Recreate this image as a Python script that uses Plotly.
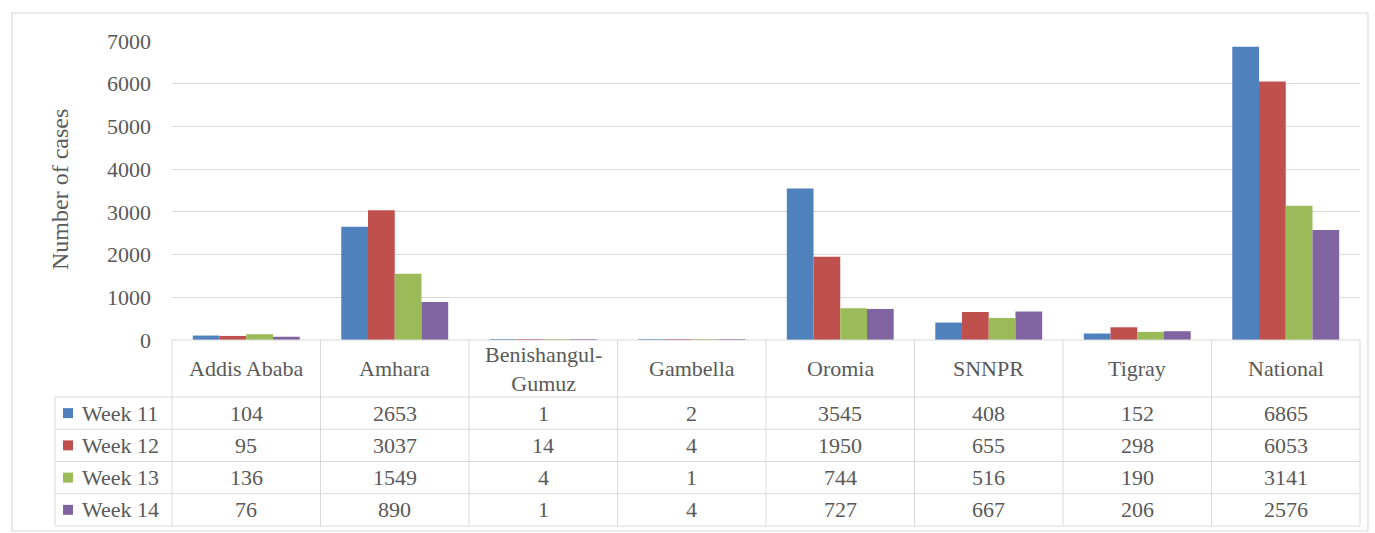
import plotly.graph_objects as go

# Weekly case counts by region
regions = ["Addis Ababa", "Amhara", "Benishangul-Gumuz", "Gambella",
           "Oromia", "SNNPR", "Tigray", "National"]
region_labels = ["Addis Ababa", "Amhara", "Benishangul-<br>Gumuz", "Gambella",
                 "Oromia", "SNNPR", "Tigray", "National"]
series_names = ["Week 11", "Week 12", "Week 13", "Week 14"]
week11 = [104, 2653, 1, 2, 3545, 408, 152, 6865]
week12 = [95, 3037, 14, 4, 1950, 655, 298, 6053]
week13 = [136, 1549, 4, 1, 744, 516, 190, 3141]
week14 = [76, 890, 1, 4, 727, 667, 206, 2576]
y_ticks = [0, 1000, 2000, 3000, 4000, 5000, 6000, 7000]

series_values = [week11, week12, week13, week14]
colors = ["#4F81BD", "#C0504D", "#9BBB59", "#8064A2"]

W, H = 1375, 533
FONT = "Liberation Serif, Times New Roman, serif"
TEXT = "#595959"
LINE = "#D9D9D9"
FS = 22


def px(x):
    return x / W


def py(y):
    return 1 - y / H


# plot area and data-table geometry (pixels)
PLOT_L, PLOT_R, PLOT_T, PLOT_B = 172, 1360, 41, 340
KEY_L = 55
HEAD_B = 397
TABLE_B = 526
n_cols = len(regions)
col_w = (PLOT_R - PLOT_L) / n_cols
row_h = (TABLE_B - HEAD_B) / len(series_names)

fig = go.Figure()
for name, vals, c in zip(series_names, series_values, colors):
    fig.add_trace(go.Bar(x=regions, y=vals, name=name, marker_color=c,
                         marker_line_width=0))

shapes = []
annotations = []

# outer chart border
shapes.append(dict(type="rect", xref="paper", yref="paper",
                   x0=px(12), x1=px(1368), y0=py(531), y1=py(13),
                   line=dict(color=LINE, width=1.2), layer="below"))

# table horizontal lines
shapes.append(dict(type="line", xref="paper", yref="paper",
                   x0=px(PLOT_L), x1=px(PLOT_R), y0=py(PLOT_B), y1=py(PLOT_B),
                   line=dict(color=LINE, width=1)))
for i in range(len(series_names) + 1):
    yy = HEAD_B + i * row_h
    shapes.append(dict(type="line", xref="paper", yref="paper",
                       x0=px(KEY_L), x1=px(PLOT_R), y0=py(yy), y1=py(yy),
                       line=dict(color=LINE, width=1)))
# table vertical lines
shapes.append(dict(type="line", xref="paper", yref="paper",
                   x0=px(KEY_L), x1=px(KEY_L), y0=py(HEAD_B), y1=py(TABLE_B),
                   line=dict(color=LINE, width=1)))
for j in range(n_cols + 1):
    xx = PLOT_L + j * col_w
    shapes.append(dict(type="line", xref="paper", yref="paper",
                       x0=px(xx), x1=px(xx), y0=py(PLOT_B), y1=py(TABLE_B),
                       line=dict(color=LINE, width=1)))

# category header row
for j, lab in enumerate(region_labels):
    annotations.append(dict(xref="paper", yref="paper",
                            x=px(PLOT_L + (j + 0.5) * col_w),
                            y=py((PLOT_B + HEAD_B) / 2),
                            text=lab, showarrow=False,
                            xanchor="center", yanchor="middle",
                            font=dict(family=FONT, size=FS, color=TEXT)))

# series rows: legend key, name, values
for i, (name, vals, c) in enumerate(zip(series_names, series_values, colors)):
    yc = HEAD_B + (i + 0.5) * row_h
    shapes.append(dict(type="rect", xref="paper", yref="paper",
                       x0=px(63), x1=px(73), y0=py(yc + 5), y1=py(yc - 5),
                       fillcolor=c, line=dict(width=0)))
    annotations.append(dict(xref="paper", yref="paper", x=px(80), y=py(yc),
                            text=name, showarrow=False,
                            xanchor="left", yanchor="middle",
                            font=dict(family=FONT, size=FS, color=TEXT)))
    for j, v in enumerate(vals):
        annotations.append(dict(xref="paper", yref="paper",
                                x=px(PLOT_L + (j + 0.5) * col_w), y=py(yc),
                                text=str(v), showarrow=False,
                                xanchor="center", yanchor="middle",
                                font=dict(family=FONT, size=FS, color=TEXT)))

# y axis title
annotations.append(dict(xref="paper", yref="paper", x=px(60), y=py(190),
                        text="Number of cases", textangle=-90, showarrow=False,
                        xanchor="center", yanchor="middle",
                        font=dict(family=FONT, size=24, color=TEXT)))

fig.update_layout(
    width=W, height=H,
    margin=dict(l=0, r=0, t=0, b=0, pad=0, autoexpand=False),
    paper_bgcolor="white", plot_bgcolor="white",
    barmode="group", bargap=0.28, bargroupgap=0,
    showlegend=False,
    shapes=shapes, annotations=annotations,
    xaxis=dict(domain=[px(PLOT_L), px(PLOT_R)], showticklabels=False,
               showgrid=False, zeroline=False, showline=False, ticks="",
               automargin=False),
    yaxis=dict(domain=[py(PLOT_B), py(PLOT_T)], range=[0, 7000],
               tickvals=y_ticks, ticktext=[str(t) for t in y_ticks],
               showgrid=True, gridcolor=LINE, gridwidth=1,
               zeroline=False, showline=False, ticks="",
               ticklabelstandoff=20, automargin=False,
               tickfont=dict(family=FONT, size=FS, color=TEXT)),
)

fig.write_html("out.html")
